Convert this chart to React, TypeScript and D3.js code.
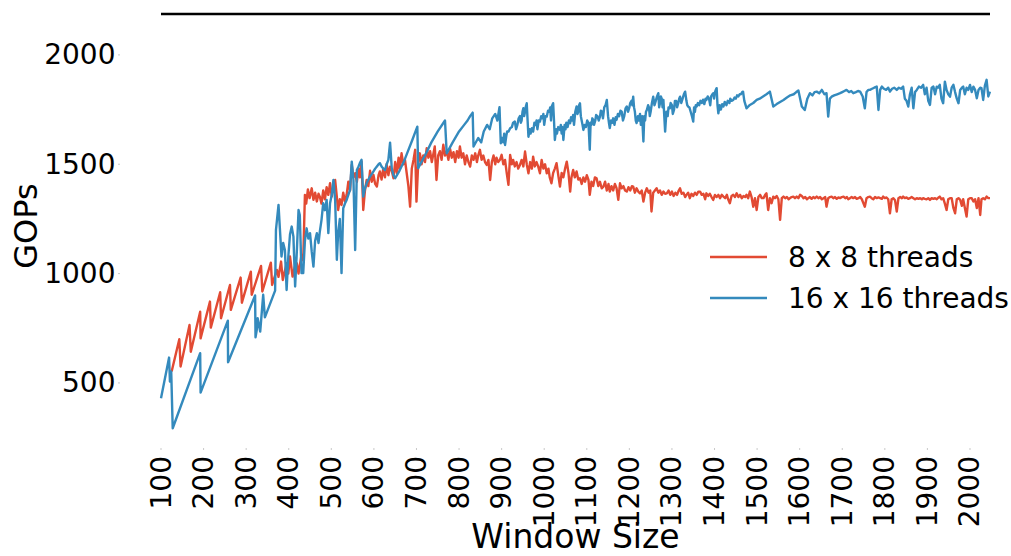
import React from "react";
import * as d3 from "d3";

// Window size vs GOPs, 8 x 8 threads
const series8x8: [number, number][] = [
  [125, 552], [143, 700], [146, 575], [167, 765], [170, 643], [192, 826], [193, 704], [215, 872], [217, 753],
  [239, 915], [241, 796], [262, 948], [264, 834], [287, 982], [290, 867], [311, 1009], [313, 903], [335, 1035],
  [338, 918], [358, 1050], [361, 948], [372, 1017], [376, 985], [382, 1055], [386, 971], [395, 1047], [399, 1000],
  [403, 1078], [409, 986], [414, 1030], [419, 1047], [423, 1000], [430, 1086], [434, 1060],
  [438, 1360], [441, 1320], [445, 1385], [449, 1345], [454, 1390], [458, 1337], [462, 1370], [466, 1330], [470, 1365],
  [473, 1352], [477, 1320], [481, 1380], [485, 1340], [489, 1395], [493, 1360], [497, 1413], [501, 1352], [505, 1400],
  [509, 1428], [513, 1350], [516, 1291], [520, 1340], [524, 1314], [528, 1370], [532, 1330], [536, 1360], [540, 1420],
  [544, 1380], [548, 1497], [552, 1440], [556, 1459], [560, 1420], [564, 1480], [567, 1440], [571, 1512], [575, 1291],
  [579, 1380], [583, 1428], [587, 1400], [591, 1470], [595, 1420], [599, 1451], [603, 1410], [607, 1398], [611, 1450],
  [614, 1467], [618, 1430], [622, 1480], [626, 1440], [630, 1500], [634, 1450], [638, 1489], [642, 1470], [646, 1436],
  [650, 1510], [654, 1460], [658, 1530], [661, 1480], [665, 1550], [669, 1500], [673, 1520], [677, 1460], [681, 1400],
  [685, 1306], [689, 1480], [693, 1520], [697, 1566], [700, 1329], [704, 1500], [708, 1550], [712, 1500], [716, 1540],
  [720, 1510], [724, 1573], [728, 1530], [732, 1560], [736, 1510], [740, 1550], [743, 1581], [747, 1428], [751, 1540],
  [755, 1560], [759, 1520], [763, 1589], [767, 1540], [771, 1560], [775, 1520], [779, 1570], [783, 1530], [787, 1555],
  [791, 1510], [795, 1560], [799, 1530], [802, 1581], [806, 1530], [810, 1550], [814, 1500], [818, 1540], [822, 1510],
  [826, 1489], [830, 1540], [834, 1520], [838, 1550], [842, 1510], [845, 1540], [849, 1566], [853, 1520], [857, 1540],
  [861, 1510], [865, 1497], [869, 1520], [873, 1428], [877, 1510], [881, 1540], [885, 1500], [888, 1530], [892, 1510],
  [896, 1520], [900, 1543], [904, 1500], [908, 1520], [912, 1459], [916, 1406], [920, 1543], [924, 1500], [927, 1520],
  [931, 1490], [935, 1510], [939, 1480], [943, 1497], [947, 1520], [951, 1490], [955, 1558], [959, 1500], [963, 1459],
  [967, 1510], [971, 1480], [974, 1535], [978, 1490], [982, 1510], [986, 1489], [990, 1459], [994, 1520], [998, 1480],
  [1002, 1500], [1006, 1459], [1010, 1480], [1013, 1440], [1017, 1413], [1021, 1460], [1025, 1480], [1029, 1505],
  [1033, 1450], [1037, 1398], [1041, 1460], [1045, 1440], [1049, 1480], [1053, 1512], [1057, 1460], [1061, 1375],
  [1064, 1440], [1068, 1474], [1072, 1440], [1076, 1467], [1080, 1430], [1084, 1436], [1088, 1410], [1092, 1440],
  [1096, 1420], [1100, 1450], [1104, 1428], [1107, 1360], [1111, 1420], [1115, 1400], [1119, 1440], [1123, 1436],
  [1127, 1400], [1131, 1420], [1135, 1390], [1139, 1398], [1143, 1420], [1147, 1380], [1151, 1410], [1154, 1375],
  [1158, 1400], [1162, 1380], [1166, 1410], [1170, 1390], [1174, 1337], [1178, 1413], [1182, 1390], [1186, 1400],
  [1190, 1380], [1194, 1375], [1198, 1395], [1202, 1380], [1206, 1400], [1209, 1398], [1213, 1370], [1217, 1390],
  [1221, 1375], [1225, 1367], [1229, 1380], [1233, 1329], [1237, 1370], [1241, 1390], [1245, 1370], [1249, 1380],
  [1252, 1284], [1256, 1370], [1260, 1380], [1264, 1390], [1268, 1370], [1272, 1380], [1276, 1360], [1280, 1375],
  [1284, 1365], [1288, 1367], [1292, 1380], [1296, 1360], [1300, 1375], [1304, 1355], [1308, 1370], [1312, 1360],
  [1316, 1380], [1319, 1390], [1323, 1365], [1327, 1370], [1331, 1350], [1334, 1360], [1338, 1370], [1342, 1345],
  [1346, 1365], [1350, 1355], [1354, 1370], [1358, 1360], [1362, 1375], [1366, 1375], [1370, 1360], [1374, 1365],
  [1378, 1340], [1381, 1367], [1385, 1355], [1389, 1365], [1393, 1350], [1397, 1337], [1401, 1360], [1405, 1350],
  [1409, 1360], [1413, 1345], [1417, 1360], [1421, 1352], [1425, 1345], [1429, 1360], [1432, 1340], [1436, 1322],
  [1440, 1355], [1444, 1360], [1448, 1350], [1452, 1367], [1456, 1350], [1460, 1360], [1464, 1345], [1468, 1355],
  [1472, 1350], [1475, 1360], [1479, 1345], [1483, 1375], [1487, 1350], [1491, 1306], [1495, 1345], [1499, 1291],
  [1503, 1350], [1507, 1360], [1511, 1345], [1515, 1345], [1519, 1360], [1522, 1367], [1526, 1291], [1530, 1345],
  [1534, 1322], [1538, 1352], [1542, 1345], [1546, 1355], [1550, 1340], [1554, 1246], [1558, 1345], [1562, 1352],
  [1566, 1345], [1570, 1350], [1574, 1340], [1577, 1345], [1581, 1350], [1585, 1352], [1589, 1345], [1593, 1352],
  [1597, 1345], [1601, 1360], [1605, 1355], [1609, 1345], [1613, 1350], [1617, 1340], [1620, 1345], [1624, 1350],
  [1628, 1342], [1632, 1350], [1636, 1345], [1640, 1352], [1644, 1345], [1648, 1350], [1652, 1340], [1656, 1345],
  [1660, 1350], [1663, 1306], [1667, 1345], [1671, 1350], [1675, 1352], [1679, 1345], [1683, 1350], [1687, 1342],
  [1691, 1348], [1695, 1345], [1699, 1350], [1703, 1352], [1707, 1345], [1711, 1350], [1714, 1340], [1718, 1345],
  [1722, 1350], [1726, 1345], [1730, 1350], [1734, 1342], [1738, 1345], [1742, 1350], [1746, 1340], [1750, 1320],
  [1753, 1306], [1757, 1345], [1761, 1350], [1765, 1352], [1769, 1345], [1773, 1340], [1777, 1350], [1781, 1345],
  [1785, 1348], [1789, 1345], [1793, 1342], [1796, 1352], [1800, 1345], [1804, 1348], [1808, 1340], [1812, 1276],
  [1816, 1340], [1820, 1345], [1824, 1335], [1828, 1284], [1832, 1345], [1836, 1350], [1840, 1345], [1843, 1352],
  [1847, 1345], [1851, 1348], [1855, 1342], [1859, 1345], [1863, 1350], [1867, 1345], [1871, 1340], [1875, 1345],
  [1879, 1342], [1883, 1345], [1887, 1340], [1890, 1345], [1894, 1342], [1898, 1340], [1902, 1345], [1906, 1337],
  [1910, 1345], [1914, 1342], [1918, 1345], [1922, 1340], [1926, 1348], [1929, 1352], [1933, 1340], [1937, 1345],
  [1941, 1320], [1945, 1291], [1949, 1340], [1953, 1345], [1957, 1345], [1961, 1300], [1965, 1276], [1969, 1340],
  [1973, 1345], [1977, 1337], [1981, 1310], [1984, 1340], [1988, 1300], [1992, 1261], [1996, 1340], [2000, 1345],
  [2004, 1345], [2008, 1330], [2012, 1340], [2016, 1300], [2020, 1345], [2024, 1268], [2027, 1340], [2031, 1345],
  [2035, 1340], [2039, 1352], [2043, 1345], [2047, 1345],
];

// Window size vs GOPs, 16 x 16 threads
const series16x16: [number, number][] = [
  [100, 430], [119, 616], [121, 506], [124, 552], [127.5, 293], [192, 636], [193, 456], [257, 785], [257.5, 595],
  [321, 900], [322, 709], [325, 743], [327, 796], [333, 735], [340, 903], [344, 800], [368, 922], [370, 1200],
  [376, 1314], [383, 1078], [387, 1140], [391, 1108], [395, 925], [399, 1078], [403, 1180], [407, 1215], [411, 1169],
  [415, 941], [419, 1100], [423, 1291], [426, 1268], [430, 1002], [434, 1002], [438, 1150], [442, 1207], [446, 1160],
  [450, 1185], [454, 1100], [458, 1032], [462, 1150], [466, 1185], [470, 1140], [473, 1192], [477, 1246], [481, 1322],
  [485, 1290], [489, 1337], [493, 1185], [497, 1322], [501, 1360], [505, 1428], [509, 1337], [513, 1063], [516, 1185],
  [520, 1250], [524, 1002], [528, 1299], [532, 1320], [536, 1337], [540, 1360], [544, 1383], [548, 1512], [552, 1428],
  [556, 1108], [560, 1474], [564, 1490], [567, 1505], [571, 1520], [575, 1352], [579, 1390], [583, 1413], [587, 1430],
  [591, 1444], [595, 1455], [599, 1467], [603, 1480], [607, 1490], [611, 1500], [614, 1505], [618, 1490], [622, 1480],
  [626, 1474], [630, 1500], [634, 1520], [636, 1560], [638, 1599], [642, 1480], [646, 1450], [650, 1436],
  [660, 1470], [670, 1510], [680, 1560], [690, 1610], [702, 1672], [704, 1482], [720, 1540], [735, 1600], [750, 1650],
  [767, 1700], [771, 1550], [785, 1600], [800, 1650], [812, 1680], [820, 1700], [826, 1720], [832, 1736], [834, 1581],
  [845, 1620], [852, 1600], [858, 1650], [866, 1680], [872, 1660], [878, 1710], [885, 1730], [890, 1700], [895, 1761],
  [898, 1596], [901, 1620], [904, 1600], [906, 1640], [908, 1588], [911, 1630], [913, 1650], [916, 1649], [920, 1665],
  [924, 1670], [927, 1690], [931, 1695], [934, 1660], [937, 1680], [940, 1710], [943, 1720], [945, 1690], [947, 1700],
  [949, 1740], [951, 1756], [953, 1720], [955, 1740], [957, 1765], [959, 1779], [961, 1700], [963, 1626], [966, 1660],
  [968, 1640], [971, 1665], [974, 1649], [977, 1690], [980, 1680], [982, 1700], [984, 1660], [987, 1700], [990, 1695],
  [993, 1720], [996, 1710], [998, 1730], [1000, 1680], [1003, 1720], [1006, 1718], [1009, 1745], [1012, 1740],
  [1014, 1760], [1016, 1700], [1018, 1765], [1021, 1779], [1023, 1700], [1025, 1611], [1028, 1660], [1030, 1640],
  [1033, 1670], [1037, 1657], [1039, 1680], [1041, 1640], [1043, 1670], [1045, 1611], [1048, 1680], [1050, 1660],
  [1052, 1690], [1055, 1670], [1058, 1700], [1061, 1688], [1063, 1715], [1066, 1700], [1068, 1725], [1070, 1680],
  [1073, 1740], [1076, 1764], [1078, 1730], [1080, 1740], [1082, 1770], [1084, 1779], [1086, 1720], [1088, 1700],
  [1090, 1680], [1092, 1657], [1095, 1680], [1098, 1670], [1101, 1700], [1104, 1688], [1107, 1566], [1109, 1690],
  [1111, 1680], [1113, 1710], [1115, 1703], [1117, 1680], [1120, 1700], [1122, 1725], [1125, 1720], [1128, 1700],
  [1131, 1718], [1133, 1745], [1136, 1740], [1138, 1710], [1141, 1760], [1144, 1770], [1147, 1794], [1150, 1720],
  [1152, 1690], [1154, 1665], [1157, 1700], [1160, 1690], [1162, 1710], [1165, 1680], [1168, 1715], [1170, 1703],
  [1173, 1730], [1176, 1720], [1179, 1745], [1182, 1740], [1185, 1700], [1188, 1720], [1191, 1755], [1194, 1764],
  [1197, 1740], [1200, 1760], [1202, 1780], [1205, 1790], [1207, 1770], [1209, 1809], [1211, 1760], [1213, 1740],
  [1215, 1700], [1217, 1688], [1220, 1720], [1222, 1700], [1225, 1730], [1227, 1680], [1230, 1720], [1233, 1604],
  [1235, 1720], [1237, 1700], [1239, 1740], [1241, 1748], [1244, 1770], [1246, 1760], [1248, 1720], [1250, 1740],
  [1253, 1780], [1256, 1809], [1259, 1770], [1262, 1790], [1265, 1810], [1268, 1825], [1270, 1760], [1272, 1780],
  [1274, 1810], [1276, 1800], [1278, 1760], [1280, 1794], [1282, 1720], [1284, 1649], [1287, 1740], [1290, 1720],
  [1292, 1760], [1295, 1756], [1297, 1780], [1300, 1770], [1302, 1730], [1305, 1750], [1307, 1790], [1310, 1790],
  [1312, 1760], [1315, 1780], [1317, 1800], [1319, 1809], [1322, 1780], [1325, 1800], [1328, 1820], [1331, 1832],
  [1334, 1790], [1336, 1770], [1338, 1764], [1341, 1760], [1344, 1740], [1347, 1720], [1350, 1695], [1352, 1760],
  [1354, 1740], [1356, 1770], [1358, 1764], [1361, 1780], [1364, 1770], [1367, 1790], [1370, 1780], [1373, 1795],
  [1376, 1775], [1379, 1800], [1381, 1794], [1384, 1810], [1387, 1800], [1390, 1770], [1392, 1810], [1395, 1820],
  [1397, 1825], [1399, 1800], [1401, 1830], [1403, 1840], [1405, 1848], [1407, 1770], [1409, 1733], [1412, 1770],
  [1415, 1750], [1418, 1775], [1421, 1764], [1424, 1785], [1428, 1770], [1431, 1790], [1435, 1780], [1437, 1800],
  [1440, 1790], [1444, 1794], [1447, 1805], [1450, 1800], [1453, 1815], [1456, 1810], [1459, 1820], [1462, 1820],
  [1465, 1830], [1467, 1832], [1470, 1790], [1473, 1770], [1475, 1756],
  [1483, 1771], [1491, 1780], [1499, 1794], [1506, 1800], [1514, 1810], [1522, 1820], [1530, 1832], [1538, 1764],
  [1546, 1775], [1554, 1785], [1562, 1794], [1570, 1805], [1578, 1815], [1586, 1820], [1592, 1830], [1597, 1837],
  [1605, 1764], [1612, 1748], [1618, 1800], [1624, 1825], [1630, 1815], [1635, 1830], [1640, 1832], [1646, 1825],
  [1652, 1840], [1658, 1820], [1663, 1825], [1667, 1718], [1671, 1800], [1675, 1809], [1681, 1815], [1688, 1820],
  [1695, 1825], [1700, 1830], [1705, 1835], [1710, 1840], [1716, 1830], [1721, 1835], [1726, 1825], [1732, 1830],
  [1737, 1835], [1742, 1832], [1748, 1810], [1753, 1756], [1757, 1830], [1761, 1840], [1765, 1840], [1770, 1845],
  [1775, 1850], [1781, 1855], [1785, 1748], [1789, 1840], [1793, 1855], [1798, 1845], [1803, 1840], [1808, 1850],
  [1812, 1832], [1817, 1845], [1822, 1850], [1828, 1840], [1833, 1850], [1838, 1845], [1843, 1855], [1847, 1800],
  [1851, 1790], [1855, 1764], [1859, 1820], [1863, 1850], [1867, 1756], [1871, 1830], [1875, 1840], [1880, 1855],
  [1885, 1850], [1890, 1863], [1894, 1820], [1898, 1850], [1902, 1790], [1906, 1771], [1910, 1850], [1914, 1855],
  [1918, 1820], [1922, 1855], [1925, 1850], [1929, 1863], [1933, 1800], [1937, 1779], [1941, 1878], [1945, 1840],
  [1949, 1820], [1953, 1809], [1957, 1850], [1961, 1863], [1965, 1830], [1969, 1800], [1973, 1779], [1977, 1840],
  [1981, 1850], [1984, 1855], [1988, 1820], [1992, 1850], [1996, 1840], [2000, 1863], [2004, 1830], [2008, 1855],
  [2012, 1840], [2016, 1802], [2020, 1840], [2024, 1850], [2027, 1848], [2031, 1794], [2035, 1860], [2039, 1886],
  [2043, 1810], [2047, 1832],
];

const xTicks = [100, 200, 300, 400, 500, 600, 700, 800, 900, 1000, 1100, 1200, 1300, 1400, 1500, 1600, 1700, 1800, 1900, 2000];
const yTicks = [500, 1000, 1500, 2000];
const seriesNames = ["8 x 8 threads", "16 x 16 threads"];
const seriesColors = ["#E24A33", "#348ABD"];

const W = 1011;
const H = 556;
const FONT = "'DejaVu Sans', sans-serif";

export default function App() {
  const x = d3.scaleLinear().domain([100, 2047]).range([161, 990]);
  const y = d3.scaleLinear().domain([198, 2187]).range([449, 14]);
  const line = d3
    .line<[number, number]>()
    .x((d) => x(d[0]))
    .y((d) => y(d[1]));

  const allSeries = [series8x8, series16x16];

  return (
    <svg
      width={W}
      height={H}
      style={{ position: "absolute", left: 0, top: 0, background: "#fff" }}
      fontFamily={FONT}
    >
      <rect x={0} y={0} width={W} height={H} fill="#fff" />
      {/* top spine */}
      <line x1={x(100)} x2={x(2047)} y1={y(2187)} y2={y(2187)} stroke="#000" strokeWidth={2.6} />

      {/* y ticks */}
      {yTicks.map((t) => (
        <g key={"y" + t}>
          <line x1={118} x2={120} y1={y(t)} y2={y(t)} stroke="#bbb" strokeWidth={0.8} />
          <text x={115.5} y={y(t)} textAnchor="end" dominantBaseline="central" fontSize={28} fill="#000">
            {t}
          </text>
        </g>
      ))}

      {/* x ticks */}
      {xTicks.map((t) => (
        <g key={"x" + t}>
          <line x1={x(t)} x2={x(t)} y1={448} y2={450} stroke="#bbb" strokeWidth={0.8} />
          <text
            transform={`translate(${x(t)},${456}) rotate(-90)`}
            textAnchor="end"
            dominantBaseline="central"
            fontSize={28}
            fill="#000"
          >
            {t}
          </text>
        </g>
      ))}

      {/* series */}
      {allSeries.map((s, i) => (
        <path
          key={"s" + i}
          d={line(s) || ""}
          fill="none"
          stroke={seriesColors[i]}
          strokeWidth={2.4}
          strokeLinejoin="round"
        />
      ))}

      {/* axis labels */}
      <text x={575.5} y={548} textAnchor="middle" fontSize={33} fill="#000">
        Window Size
      </text>
      <text
        transform={`translate(${37},${226}) rotate(-90)`}
        textAnchor="middle"
        fontSize={32}
        fill="#000"
      >
        GOPs
      </text>

      {/* legend */}
      {seriesNames.map((n, i) => (
        <g key={"l" + i} transform={`translate(0,${257 + i * 41})`}>
          <line x1={710} x2={767} y1={0} y2={0} stroke={seriesColors[i]} strokeWidth={2.4} />
          <text x={788} y={0} dominantBaseline="central" fontSize={28} fill="#000">
            {n}
          </text>
        </g>
      ))}
    </svg>
  );
}
